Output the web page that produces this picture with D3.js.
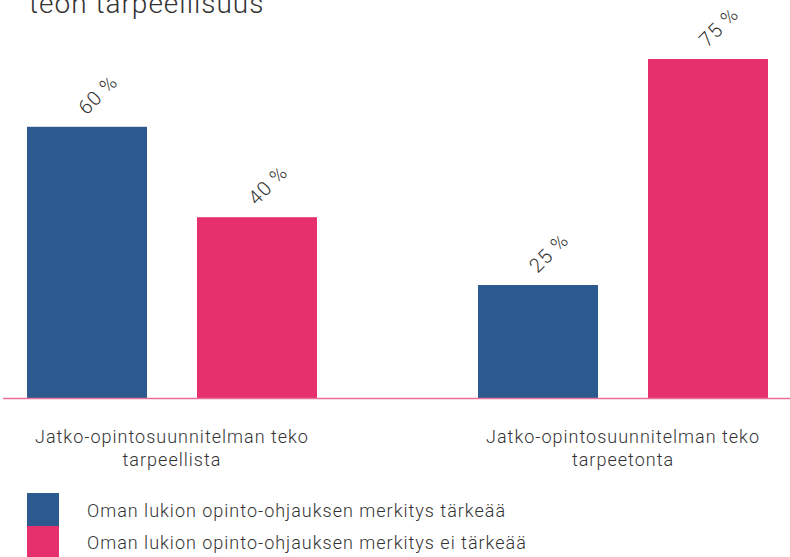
<!DOCTYPE html>
<html><head><meta charset="utf-8">
<script src="https://cdn.jsdelivr.net/npm/d3@7"></script>
<style>body{margin:0;background:#fff}svg{display:block}</style>
</head><body>
<svg id="c" width="790" height="557"></svg>
<script>
const categories = ["Jatko-opintosuunnitelman teko tarpeellista", "Jatko-opintosuunnitelman teko tarpeetonta"];
const categoryLines = [["Jatko-opintosuunnitelman teko", "tarpeellista"], ["Jatko-opintosuunnitelman teko", "tarpeetonta"]];
const seriesNames = ["Oman lukion opinto-ohjauksen merkitys tärkeää", "Oman lukion opinto-ohjauksen merkitys ei tärkeää"];
const seriesValues = [[60, 25], [40, 75]];
const colors = ["#2c5a8e", "#e5306d"];
const titleVisible = "teon tarpeellisuus";

const svg = d3.select("#c");
const font = "Roboto, 'Noto Sans', sans-serif";

svg.append("text").attr("x", 29).attr("y", 13).attr("font-family", font).attr("font-weight", 300)
  .attr("font-size", 28).attr("letter-spacing", 1).attr("fill", "#333").text(titleVisible);

const x0 = d3.scaleBand().domain(categories).range([27, 768]).paddingInner(0.357).paddingOuter(0);
const x1 = d3.scaleBand().domain(seriesNames).range([0, x0.bandwidth()]).paddingInner(0.294);
const y = d3.scaleLinear().domain([0, 75]).range([398, 59]);

const data = [];
categories.forEach((c, i) => seriesNames.forEach((s, j) => data.push({c, s, j, v: seriesValues[j][i]})));

svg.selectAll("rect.bar").data(data).join("rect").attr("class", "bar")
  .attr("x", d => x0(d.c) + x1(d.s)).attr("width", x1.bandwidth())
  .attr("y", d => y(d.v)).attr("height", d => y(0) - y(d.v))
  .attr("fill", d => colors[d.j]);

svg.append("line").attr("x1", 3).attr("x2", 790).attr("y1", y(0) + 0.5).attr("y2", y(0) + 0.5)
  .attr("stroke", "#e8709a").attr("stroke-width", 1.5);

svg.selectAll("text.val").data(data).join("text").attr("class", "val")
  .attr("transform", d => `translate(${x0(d.c) + x1(d.s) + x1.bandwidth() / 2 + 12},${y(d.v) - 31}) rotate(-45)`)
  .attr("text-anchor", "middle").attr("dominant-baseline", "middle")
  .attr("font-family", font).attr("font-weight", 300).attr("font-size", 20).attr("letter-spacing", 1).attr("fill", "#333")
  .text(d => d.v + " %");

categories.forEach((c, i) => {
  const t = svg.append("text").attr("text-anchor", "middle").attr("font-family", font).attr("font-weight", 300)
    .attr("font-size", 18).attr("letter-spacing", 1).attr("fill", "#333");
  categoryLines[i].forEach((l, k) => t.append("tspan").attr("x", x0(c) + x0.bandwidth() / 2).attr("y", 443 + k * 23).text(l));
});

const lg = svg.append("g");
seriesNames.forEach((s, j) => {
  lg.append("rect").attr("x", 27).attr("y", 493 + j * 33).attr("width", 32).attr("height", 33).attr("fill", colors[j]);
  lg.append("text").attr("x", 87).attr("y", 517 + j * 32).attr("font-family", font).attr("font-weight", 300)
    .attr("font-size", 18).attr("letter-spacing", 1).attr("fill", "#333").text(s);
});
</script>
</body></html>
